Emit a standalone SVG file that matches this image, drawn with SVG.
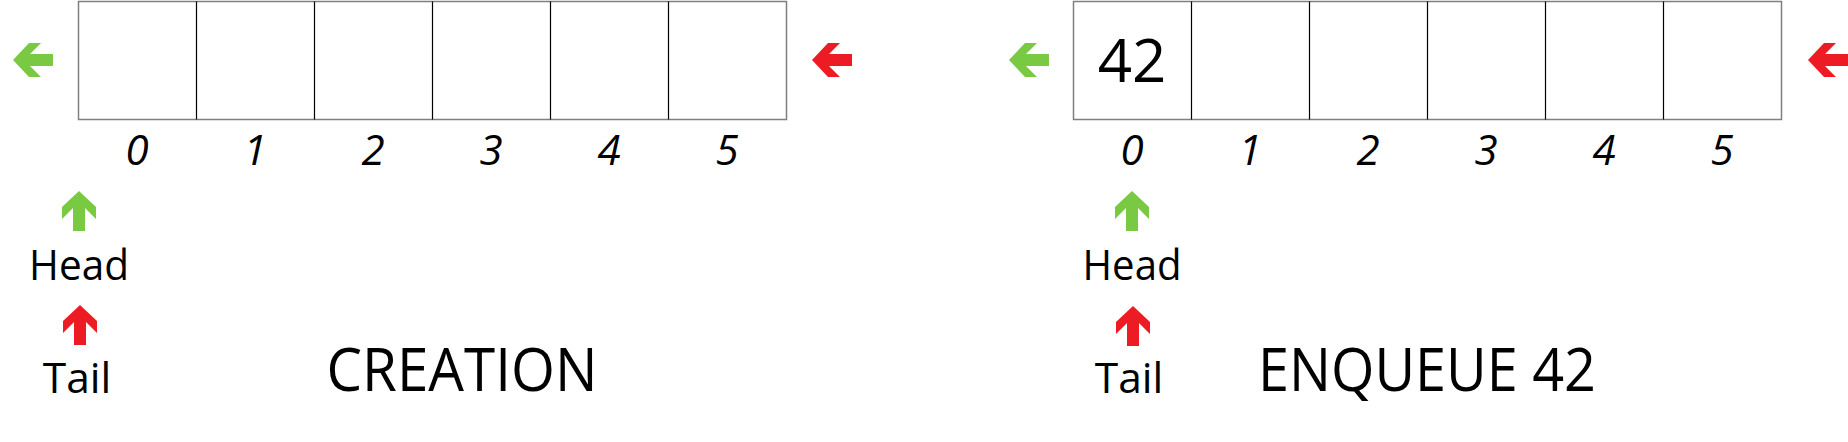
<svg xmlns="http://www.w3.org/2000/svg" xmlns:xlink="http://www.w3.org/1999/xlink" width="1848" height="442" viewBox="0 0 1848 442">
  <style>
    .outer { fill: #ffffff; stroke: #7f7f7f; stroke-width: 1.5; }
    .div { stroke: #000000; stroke-width: 1.2; }
    .idx { font-family: "Open Sans", "Liberation Sans", sans-serif; font-style: italic; font-size: 42px; fill: #000; text-anchor: middle; }
    .lbl { font-family: "Open Sans", "Liberation Sans", sans-serif; font-size: 42.5px; fill: #000; text-anchor: middle; }
    .big { font-family: "Open Sans", "Liberation Sans", sans-serif; font-size: 60px; fill: #000; text-anchor: middle; }
    .green { fill: #7ac943; }
    .red { fill: #ed1c24; }
  </style>
  <defs>
    <path id="arr" d="M0,0 L16,-17 L28,-17 L17,-6 L40,-6 L40,6 L17,6 L28,17 L16,17 Z"/>
  </defs>
  <rect width="1848" height="442" fill="#ffffff"/>

  <!-- Left diagram: CREATION -->
  <g id="array1">
    <rect class="outer" x="78.5" y="1.5" width="708" height="118"/>
    <line class="div" x1="196.5" y1="1.5" x2="196.5" y2="119.5"/>
    <line class="div" x1="314.5" y1="1.5" x2="314.5" y2="119.5"/>
    <line class="div" x1="432.5" y1="1.5" x2="432.5" y2="119.5"/>
    <line class="div" x1="550.5" y1="1.5" x2="550.5" y2="119.5"/>
    <line class="div" x1="668.5" y1="1.5" x2="668.5" y2="119.5"/>
    <text class="idx" x="137" y="165">0</text>
    <text class="idx" x="255" y="165">1</text>
    <text class="idx" x="373" y="165">2</text>
    <text class="idx" x="491" y="165">3</text>
    <text class="idx" x="609" y="165">4</text>
    <text class="idx" x="727" y="165">5</text>
  </g>
  <g id="head1">
    <use href="#arr" class="green" transform="translate(79,191) rotate(90)"/>
    <text class="lbl" x="79" y="280" textLength="100" lengthAdjust="spacingAndGlyphs">Head</text>
  </g>
  <g id="tail1">
    <use href="#arr" class="red" transform="translate(80,305) rotate(90)"/>
    <text class="lbl" x="77" y="393">Tail</text>
  </g>
  <g id="title1">
    <text class="big" x="462" y="390.5" textLength="271" lengthAdjust="spacingAndGlyphs">CREATION</text>
  </g>

  <!-- Right diagram: ENQUEUE 42 -->
  <g id="array2">
    <rect class="outer" x="1073.5" y="1.5" width="708" height="118"/>
    <line class="div" x1="1191.5" y1="1.5" x2="1191.5" y2="119.5"/>
    <line class="div" x1="1309.5" y1="1.5" x2="1309.5" y2="119.5"/>
    <line class="div" x1="1427.5" y1="1.5" x2="1427.5" y2="119.5"/>
    <line class="div" x1="1545.5" y1="1.5" x2="1545.5" y2="119.5"/>
    <line class="div" x1="1663.5" y1="1.5" x2="1663.5" y2="119.5"/>
    <text class="big" x="1132" y="81.5">42</text>
    <text class="idx" x="1132" y="165">0</text>
    <text class="idx" x="1250" y="165">1</text>
    <text class="idx" x="1368" y="165">2</text>
    <text class="idx" x="1486" y="165">3</text>
    <text class="idx" x="1604" y="165">4</text>
    <text class="idx" x="1722" y="165">5</text>
  </g>
  <g id="head2">
    <use href="#arr" class="green" transform="translate(1132,191) rotate(90)"/>
    <text class="lbl" x="1132" y="279.5" textLength="99" lengthAdjust="spacingAndGlyphs">Head</text>
  </g>
  <g id="tail2">
    <use href="#arr" class="red" transform="translate(1133,306) rotate(90)"/>
    <text class="lbl" x="1129" y="393">Tail</text>
  </g>
  <g id="title2">
    <text class="big" x="1427" y="390.5" textLength="338" lengthAdjust="spacingAndGlyphs">ENQUEUE 42</text>
  </g>

  <!-- Side arrows -->
  <g id="connectors">
    <use href="#arr" class="green" transform="translate(13,60)"/>
    <use href="#arr" class="red" transform="translate(812,60)"/>
    <use href="#arr" class="green" transform="translate(1009,60)"/>
    <use href="#arr" class="red" transform="translate(1808,60)"/>
  </g>
</svg>
